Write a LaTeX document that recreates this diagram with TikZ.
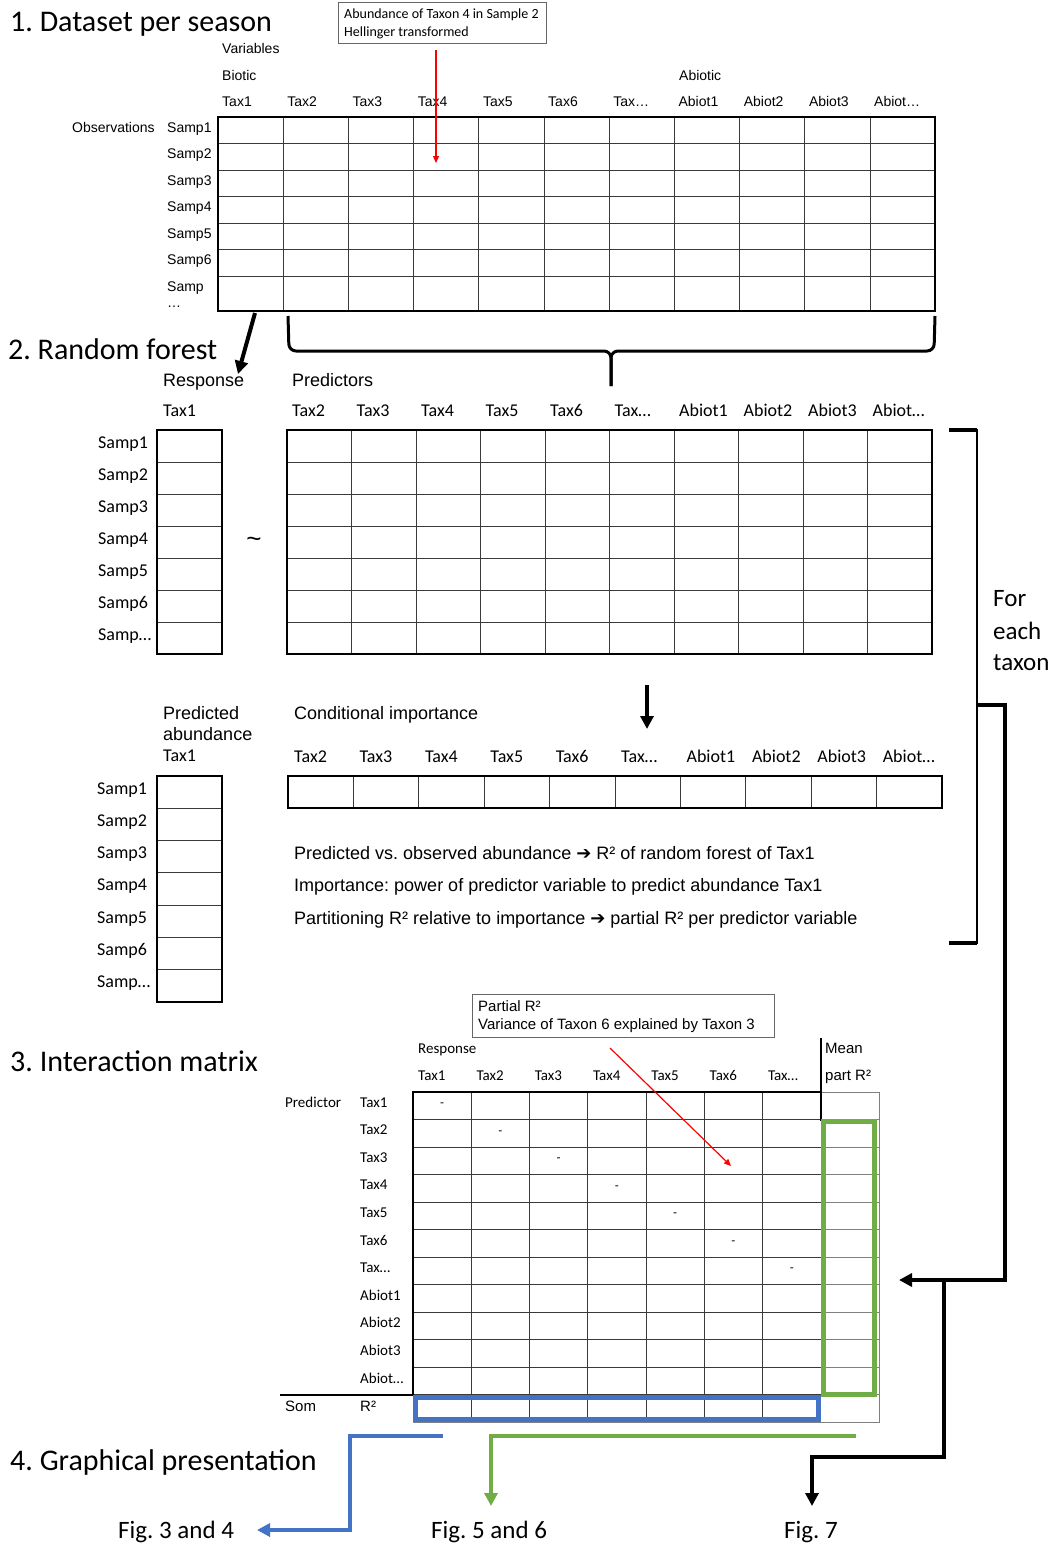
\documentclass[tikz,border=0pt]{standalone}
\usepackage{fontspec}
\setmainfont{Liberation Sans}
\newfontfamily\calibri{Carlito}
\newfontfamily\dejavu{DejaVu Sans}
\usetikzlibrary{arrows.meta}
\definecolor{obblue}{HTML}{4472C4}
\definecolor{obgreen}{HTML}{70AD47}
\definecolor{gridc}{HTML}{3A3A3A}
\frenchspacing
\tikzset{
 lab/.style={inner sep=0pt, anchor=base west},
 a14/.style={lab, font=\fontsize{14}{16}\selectfont},
 a15/.style={lab, font=\fontsize{15}{17}\selectfont},
 a18/.style={lab, font=\fontsize{18}{21}\selectfont},
 c14/.style={lab, font=\calibri\fontsize{14}{16}\selectfont},
 c15/.style={lab, font=\calibri\fontsize{15}{17}\selectfont},
 c18/.style={lab, font=\calibri\fontsize{18}{21}\selectfont},
 c25/.style={lab, font=\calibri\fontsize{25}{29}\selectfont},
 c30/.style={lab, font=\calibri\fontsize{30}{34}\selectfont},
 gridl/.style={draw=gridc, line width=0.9pt},
 graygrid/.style={draw=black!50, line width=0.9pt},
 frame/.style={draw=black, line width=2.6pt},
 bigarrow/.style={line width=4pt, -{Triangle[length=13pt,width=13pt]}},
 redarrow/.style={draw=red, line width=1.2pt, -{Triangle[length=7pt,width=6pt]}},
 annot/.style={draw=black!60, line width=0.9pt, inner sep=0pt, anchor=north west},
}
\begin{document}
\frenchspacing
\begin{tikzpicture}[x=1pt,y=-1pt]
\useasboundingbox (0,0) rectangle (1057,1547);

% ---------------- 1. Dataset per season
\node[c30] (title1) at (10,31) {1. Dataset per season};
\node[annot, minimum width=208pt, minimum height=41pt] (box1) at (338,2) {};
\node[c14] (box1a) at (344,18) {Abundance of Taxon 4 in Sample 2};
\node[c14] (box1b) at (344,36) {Hellinger transformed};

\node[a14] (vars) at (222,53) {Variables};
\node[a14] (biotic) at (222,80) {Biotic};
\node[a14] (abiotic) at (679,80) {Abiotic};
\foreach \t [count=\i from 0] in {Tax1,Tax2,Tax3,Tax4,Tax5,Tax6,Tax…,Abiot1,Abiot2,Abiot3,Abiot…}
  \node[a14] (h1-\i) at ({222+65.2*\i},106) {\t};

\foreach \k in {1,...,10} \draw[gridl] ({218+65.2*\k},117) -- ({218+65.2*\k},311);
\foreach \k in {1,...,6} \draw[gridl] (218,{117+26.5*\k}) -- (935.2,{117+26.5*\k});
\draw[line width=1.6pt] (218,117) rectangle (935.2,311);
\draw[line width=2.6pt] (216.9,117) -- (936.3,117);

\node[a14] (obs) at (72,132) {Observations};
\foreach \s [count=\i from 0] in {Samp1,Samp2,Samp3,Samp4,Samp5,Samp6,Samp}
  \node[a14] (s1-\i) at (167,{132+26.5*\i}) {\s};
\node[a14] (s1-dots) at (167,307) {…};

\coordinate (red1s) at (436,50);
\coordinate (red1e) at (436,163);
\draw[redarrow] (red1s) -- (red1e);

% ---------------- 2. Random forest
\coordinate (respfrom) at (255,313);
\coordinate (respto) at (238,374);
\draw[bigarrow] (respfrom) -- (respto);

\draw[line width=3pt, rounded corners=7pt] (288,316) -- (289,351) -- (611,351) -- (611,386);
\draw[line width=3pt, rounded corners=7pt] (611,386) -- (611,351) -- (934,351) -- (935,316);

\node[c30] (title2) at (8,359) {2. Random forest};
\node[a18] (resp) at (163,386.5) {Response};
\node[a18] (pred) at (292,386.5) {Predictors};
\node[c18] (h2-r) at (163,416) {Tax1};
\foreach \t [count=\i from 0] in {Tax2,Tax3,Tax4,Tax5,Tax6,Tax…,Abiot1,Abiot2,Abiot3,Abiot…}
  \node[c18] (h2-\i) at ({292+64.5*\i},416) {\t};

\foreach \k in {1,...,6} \draw[gridl] (157,{430+32*\k}) -- (222,{430+32*\k});
\draw[frame] (157,430) rectangle (222,654);
\foreach \k in {1,...,9} \draw[gridl] ({287+64.5*\k},430) -- ({287+64.5*\k},654);
\foreach \k in {1,...,6} \draw[gridl] (287,{430+32*\k}) -- (932,{430+32*\k});
\draw[frame] (287,430) rectangle (932,654);

\foreach \s [count=\i from 0] in {Samp1,Samp2,Samp3,Samp4,Samp5,Samp6,Samp…}
  \node[c18] (s2-\i) at (98,{448+32*\i}) {\s};
\node[inner sep=0pt, font=\fontsize{26}{28}\selectfont] (tilde) at (254,542) {\textasciitilde};

\coordinate (downs) at (647,685);
\coordinate (downe) at (647,729);
\draw[bigarrow] (downs) -- (downe);

\node[a18] (pa1) at (163,719.5) {Predicted};
\node[a18] (pa2) at (163,740.5) {abundance};
\node[c18] (pa3) at (163,761.8) {Tax1};
\node[a18] (condimp) at (294,719.5) {Conditional importance};
\foreach \t [count=\i from 0] in {Tax2,Tax3,Tax4,Tax5,Tax6,Tax…,Abiot1,Abiot2,Abiot3,Abiot…}
  \node[c18] (h3-\i) at ({294+65.4*\i},762) {\t};

\foreach \k in {1,...,6} \draw[gridl] (157,{776+32.286*\k}) -- (222,{776+32.286*\k});
\draw[frame] (157,776) rectangle (222,1002);
\foreach \k in {1,...,9} \draw[gridl] ({288+65.4*\k},776) -- ({288+65.4*\k},808);
\draw[frame] (288,776) rectangle (942,808);

\foreach \s [count=\i from 0] in {Samp1,Samp2,Samp3,Samp4,Samp5,Samp6,Samp…}
  \node[c18] (s3-\i) at (97,{794+32.3*\i}) {\s};

\node[a18] (line1) at (294,859.5) {Predicted vs. observed abundance {\dejavu ➔} R² of random forest of Tax1};
\node[a18] (line2) at (294,891.5) {Importance: power of predictor variable to predict abundance Tax1};
\node[a18] (line3) at (294,924.5) {Partitioning R² relative to importance {\dejavu ➔} partial R² per predictor variable};

% bracket "for each taxon"
\draw[line width=2pt] (949,430) -- (977,430) -- (977,943) -- (949,943);
\draw[line width=4.5pt] (949,430) -- (977,430);
\draw[line width=4.5pt] (949,943) -- (977,943);
\node[c25] (fe1) at (993,606) {For};
\node[c25] (fe2) at (993,639) {each};
\node[c25] (fe3) at (993,670) {taxon};

\coordinate (loopa) at (976,705);
\coordinate (loopb) at (1005,705);
\coordinate (loopc) at (1005,1280);
\coordinate (loopd) at (899,1280);
\draw[bigarrow] (loopa) -- (loopb) -- (loopc) -- (loopd);
\coordinate (f7a) at (944,1280);
\coordinate (f7b) at (944,1457);
\coordinate (f7c) at (812,1457);
\coordinate (f7d) at (812,1506);
\draw[bigarrow] (f7a) -- (f7b) -- (f7c) -- (f7d);

% ---------------- 3. Interaction matrix
\node[c30] (title3) at (10,1071) {3. Interaction matrix};
\node[annot, minimum width=302pt, minimum height=43pt] (box2) at (472,994) {};
\node[a15] (box2a) at (478,1011) {Partial R²};
\node[a15] (box2b) at (478,1029) {Variance of Taxon 6 explained by Taxon 3};

\node[c15] (resp3) at (418,1053) {Response};
\foreach \t [count=\i from 0] in {Tax1,Tax2,Tax3,Tax4,Tax5,Tax6,Tax…}
  \node[c15] (h4-\i) at ({418+58.3*\i},1080) {\t};
\node[a15] (mean1) at (825,1053.4) {Mean};
\node[a15] (mean2) at (825,1080.4) {part R²};
\node[c15] (predlab) at (285,1107) {Predictor};
\foreach \t [count=\i from 0] in {Tax1,Tax2,Tax3,Tax4,Tax5,Tax6,Tax…,Abiot1,Abiot2,Abiot3,Abiot…}
  \node[c15] (r4-\i) at (360,{1107+27.6*\i}) {\t};
\node[a15] (som) at (285,1411) {Som};
\node[a15] (rsq) at (360,1411) {R²};

\foreach \k in {1,...,6} \draw[gridl] ({413+58.2857*\k},1092) -- ({413+58.2857*\k},1422);
\foreach \j in {1,...,11} \draw[gridl] (413,{1092+27.5*\j}) -- (821,{1092+27.5*\j});
\foreach \j in {0,...,11} \draw[graygrid] (821,{1092+27.5*\j}) -- (879,{1092+27.5*\j});
\draw[graygrid] (413,1422) -- (879,1422) -- (879,1092);
\draw[line width=2.6pt] (413,1396) -- (413,1092) -- (821,1092);
\draw[line width=2.6pt] (821,1038) -- (821,1121);
\draw[line width=2.6pt] (280,1395) -- (414,1395);

\foreach \i in {0,...,6}
  \node[inner sep=0pt, font=\fontsize{12}{14}\selectfont] (dash\i) at ({442+58.29*\i},{1105+27.5*\i}) {-};

\draw[obgreen, line width=5pt] (823.5,1121.5) rectangle (874.5,1394.5);
\draw[obblue, line width=5pt] (415.5,1397.5) rectangle (818.5,1419.5);

\coordinate (red2s) at (610,1048);
\coordinate (red2e) at (731,1166);
\draw[redarrow] (red2s) -- (red2e);

% ---------------- 4. Graphical presentation
\node[c30] (title4) at (10,1470) {4. Graphical presentation};
\coordinate (ba) at (443,1436);
\coordinate (bb) at (350,1436);
\coordinate (bc) at (350,1530);
\coordinate (bd) at (257,1530);
\draw[obblue, bigarrow] (ba) -- (bb) -- (bc) -- (bd);
\coordinate (ga) at (856,1436);
\coordinate (gb) at (491,1436);
\coordinate (gc) at (491,1506);
\draw[obgreen, bigarrow] (ga) -- (gb) -- (gc);
\node[c25] (fig34) at (118,1538) {Fig. 3 and 4};
\node[c25] (fig56) at (431,1538) {Fig. 5 and 6};
\node[c25] (fig7) at (784,1538) {Fig. 7};
\end{tikzpicture}
\end{document}
